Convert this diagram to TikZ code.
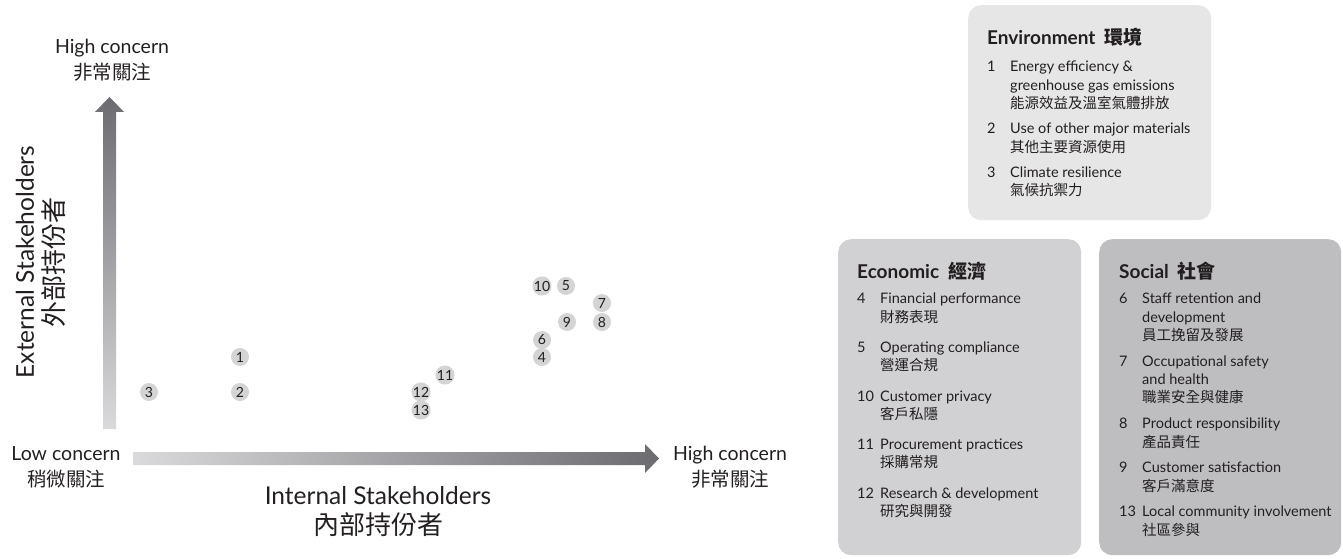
\documentclass[tikz,border=0pt]{standalone}
\usepackage{fontspec}
\setmainfont{Lato}
\newfontfamily\cjk{Noto Sans CJK TC}
\usetikzlibrary{positioning}

\newcommand{\itemnum}[1]{\makebox[23pt][l]{#1}}
\newcommand{\itemind}{\hspace*{23pt}}

\begin{document}
\begin{tikzpicture}
    [x=1pt,y=-1pt,
    % Styles
    axis end/.style={align=center,text=inkgray,inner sep=0pt,
        font=\fontsize{19.5}{26}\selectfont},
    axis title/.style={align=center,text=inkgray,inner sep=0pt,
        font=\fontsize{24.5}{30}\selectfont},
    bubble/.style={circle,fill=bubblefill,minimum size=18pt,inner sep=0pt,
        text=inkgray,font=\fontsize{14}{14}\selectfont},
    panel/.style={rounded corners=13pt,anchor=north west,inner sep=0pt},
    list text/.style={anchor=north west,align=left,inner sep=0pt,text=inkgray,
        font=\fontsize{14.5}{18.3}\selectfont}]

    % Colors
    \definecolor{arrowdark}{HTML}{6B6B70}
    \definecolor{arrowlight}{HTML}{DADADC}
    \definecolor{envfill}{HTML}{E6E6E7}
    \definecolor{ecofill}{HTML}{D1D1D3}
    \definecolor{socfill}{HTML}{BEBEC1}
    \definecolor{bubblefill}{HTML}{D4D4D4}
    \definecolor{inkgray}{HTML}{231F20}

    \useasboundingbox (0,0) rectangle (1343,559);

    % The graphic: two shaded axes
    \shade[top color=arrowdark,bottom color=arrowlight]
        (103,429) -- (103,112) -- (95,112) -- (109.5,97) -- (124,112)
        -- (116,112) -- (116,429) -- cycle;
    \shade[left color=arrowlight,right color=arrowdark]
        (133,452) -- (645,452) -- (645,444) -- (659,458.5) -- (645,473)
        -- (645,465) -- (133,465) -- cycle;

    \node[axis end] (yhigh) at (112,60) {High concern\\{\cjk 非常關注}};
    \node[axis end] (xlow) at (66,467) {Low concern\\{\cjk 稍微關注}};
    \node[axis end] (xhigh) at (730,467) {High concern\\{\cjk 非常關注}};
    \node[axis title] (xtitle) at (378,512)
        {Internal Stakeholders\\{\cjk\fontsize{26}{30}\selectfont 內部持份者}};
    \node[axis title,rotate=90] (ytitle) at (41,262)
        {External Stakeholders\\{\cjk\fontsize{26}{30}\selectfont 外部持份者}};

    % topics on the matrix
    \foreach \n/\x/\y in {1/240/357, 2/240/392, 3/149/392, 4/542/357,
        5/566/286, 6/542/340, 7/602/303, 8/602/322, 9/567/322, 10/542/286,
        11/445/375, 12/421/392, 13/421/410}
        \node[bubble] (topic\n) at (\x,\y) {\n};

    % legend panels
    \node[panel,fill=envfill,minimum width=243pt,minimum height=215pt]
        (env) at (968,5) {};
    \node[panel,fill=ecofill,minimum width=243pt,minimum height=316pt]
        (eco) at (838,239) {};
    \node[panel,fill=socfill,minimum width=242pt,minimum height=316pt]
        (soc) at (1099,239) {};

    \node[list text] (envlist) at ([xshift=19pt,yshift=-23pt]env.north west) {
        {\fontsize{19}{18}\selectfont\bfseries Environment\hspace{9pt}{\cjk 環境}}\\[9pt]
        \itemnum{1}Energy efficiency \&\\
        \itemind greenhouse gas emissions\\
        \itemind{\cjk 能源效益及溫室氣體排放}\\[7pt]
        \itemnum{2}Use of other major materials\\
        \itemind{\cjk 其他主要資源使用}\\[7pt]
        \itemnum{3}Climate resilience\\
        \itemind{\cjk 氣候抗禦力}};

    \node[list text] (ecolist) at ([xshift=19pt,yshift=-23pt]eco.north west) {
        {\fontsize{19}{18}\selectfont\bfseries Economic\hspace{9pt}{\cjk 經濟}}\\[7pt]
        \itemnum{4}Financial performance\\
        \itemind{\cjk 財務表現}\\[12pt]
        \itemnum{5}Operating compliance\\
        \itemind{\cjk 營運合規}\\[12pt]
        \itemnum{10}Customer privacy\\
        \itemind{\cjk 客戶私隱}\\[12pt]
        \itemnum{11}Procurement practices\\
        \itemind{\cjk 採購常規}\\[12pt]
        \itemnum{12}Research \& development\\
        \itemind{\cjk 研究與開發}};

    \node[list text] (soclist) at ([xshift=20pt,yshift=-23pt]soc.north west) {
        {\fontsize{19}{18}\selectfont\bfseries Social\hspace{9pt}{\cjk 社會}}\\[7pt]
        \itemnum{6}Staff retention and\\
        \itemind development\\
        \itemind{\cjk 員工挽留及發展}\\[7.5pt]
        \itemnum{7}Occupational safety\\
        \itemind and health\\
        \itemind{\cjk 職業安全與健康}\\[7.5pt]
        \itemnum{8}Product responsibility\\
        \itemind{\cjk 產品責任}\\[7.5pt]
        \itemnum{9}Customer satisfaction\\
        \itemind{\cjk 客戶滿意度}\\[7.5pt]
        \itemnum{13}Local community involvement\\
        \itemind{\cjk 社區參與}};
\end{tikzpicture}
\end{document}
